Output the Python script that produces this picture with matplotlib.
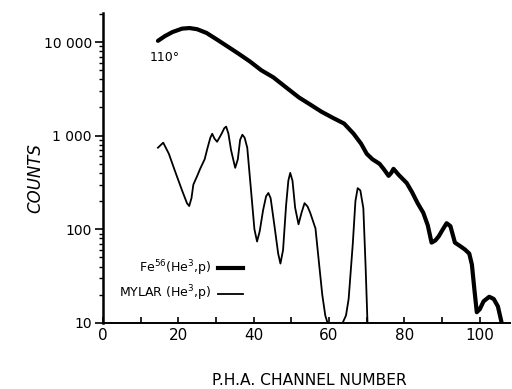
import matplotlib
matplotlib.use("Agg")
import matplotlib.pyplot as plt
from matplotlib.ticker import FixedLocator, NullFormatter, LogLocator

fe_x = [14.6, 16.5, 18.5, 21.0, 23.0, 25.0, 27.5, 30.3, 33.0, 36.0, 39.0, 42.0, 45.2, 48.5,
        52.0, 55.0, 58.0, 61.0, 64.0, 66.5, 68.5, 70.0, 71.5, 73.4, 74.5, 75.8, 76.5, 77.1,
        78.5, 80.6, 82.0, 83.5, 85.0, 86.2, 87.2, 88.2, 89.1, 90.2, 91.2, 92.2, 93.4, 94.8,
        96.0, 97.2, 97.9, 98.6, 99.2, 100.0, 101.0, 102.5, 103.7, 104.8, 105.8]
fe_y = [10300, 11600, 12800, 13900, 14100, 13700, 12500, 10600, 9000, 7500, 6200, 5000, 4200,
        3300, 2560, 2150, 1800, 1550, 1345, 1050, 820, 640, 560, 500, 440, 372, 400, 442,
        380, 312, 250, 190, 150, 110, 72, 76, 84, 100, 116, 108, 72, 66, 61, 55, 42,
        22, 13, 14, 17, 19, 18, 15, 10]

my_x = [14.6, 16.0, 17.5, 19.1, 21.0, 22.3, 22.9, 23.5, 24.0, 25.0, 25.8, 27.0, 27.7, 28.5,
        29.0, 29.6, 30.3, 31.5, 32.2, 32.7, 33.3, 34.0, 35.1, 35.8, 36.4, 37.0, 37.6, 38.3,
        39.3, 40.2, 40.9, 41.6, 42.5, 43.3, 43.9, 44.5, 45.5, 46.5, 47.1, 47.8, 48.6, 49.2,
        49.7, 50.3, 51.0, 51.9, 52.7, 53.5, 54.3, 55.0, 56.4, 57.3, 58.2, 59.0, 59.6, 63.6,
        64.5, 65.2, 66.3, 67.0, 67.6, 68.3, 69.1, 69.7, 70.2]
my_y = [743, 841, 640, 421, 260, 190, 177, 215, 300, 370, 442, 560, 724, 950, 1047, 930,
        860, 1050, 1200, 1250, 1050, 700, 453, 560, 900, 1023, 950, 743, 260, 100, 74, 95,
        160, 225, 244, 215, 110, 55, 43, 60, 180, 330, 400, 330, 170, 113, 150, 190, 175,
        150, 102, 45, 20, 12, 10, 10, 12, 18, 70, 200, 275, 260, 168, 40, 10]

y_ticks = [10, 100, 1000, 10000]
y_labels = ["10", "100", "1 000", "10 000"]
x_ticks = [0, 20, 40, 60, 80, 100]
x_labels = ["0", "20", "40", "60", "80", "100"]

fig = plt.figure(figsize=(5.12, 3.89), dpi=100)
ax = fig.add_axes([0.201, 0.17, 0.795, 0.797])

ax.plot(fe_x, fe_y, color="black", lw=3.0, solid_capstyle="round", solid_joinstyle="round")
ax.plot(my_x, my_y, color="black", lw=1.3, solid_joinstyle="round")

ax.set_yscale("log")
ax.set_xlim(0, 108)
ax.set_ylim(10, 20500)

ax.spines["top"].set_visible(False)
ax.spines["right"].set_visible(False)
ax.spines["left"].set_linewidth(1.8)
ax.spines["bottom"].set_linewidth(1.4)

ax.yaxis.set_major_locator(FixedLocator(y_ticks))
ax.set_yticklabels(y_labels, fontsize=10)
ax.yaxis.set_minor_locator(LogLocator(base=10, subs=range(2, 10)))
ax.yaxis.set_minor_formatter(NullFormatter())
ax.tick_params(axis="y", which="major", direction="out", length=6, width=1.2, pad=2)
ax.tick_params(axis="y", which="minor", direction="out", length=3, width=1.0)

ax.xaxis.set_major_locator(FixedLocator(x_ticks))
ax.set_xticklabels(x_labels, fontsize=11)
ax.xaxis.set_minor_locator(FixedLocator([10, 30, 50, 70, 90]))
ax.tick_params(axis="x", which="major", direction="in", length=4, width=1.2, pad=4)
ax.tick_params(axis="x", which="minor", direction="in", length=4, width=1.2)

ax.text(12.5, 6900, "110°", fontsize=9, ha="left", va="center")

fig.text(0.068, 0.542, "COUNTS", rotation=90, fontsize=12, style="italic",
         ha="center", va="center")
fig.text(0.605, 0.023, "P.H.A. CHANNEL NUMBER", fontsize=11.2, ha="center", va="center")

# legend
fig.text(0.413, 0.311, r"Fe$^{56}$(He$^{3}$,p)", fontsize=9, ha="right", va="center")
fig.text(0.413, 0.245, r"MYLAR (He$^{3}$,p)", fontsize=9, ha="right", va="center")
fig.add_artist(plt.Line2D([0.425, 0.475], [0.311, 0.311], color="black", lw=3.0,
                          transform=fig.transFigure))
fig.add_artist(plt.Line2D([0.425, 0.475], [0.245, 0.245], color="black", lw=1.3,
                          transform=fig.transFigure))

fig.savefig("out.png", dpi=100)
